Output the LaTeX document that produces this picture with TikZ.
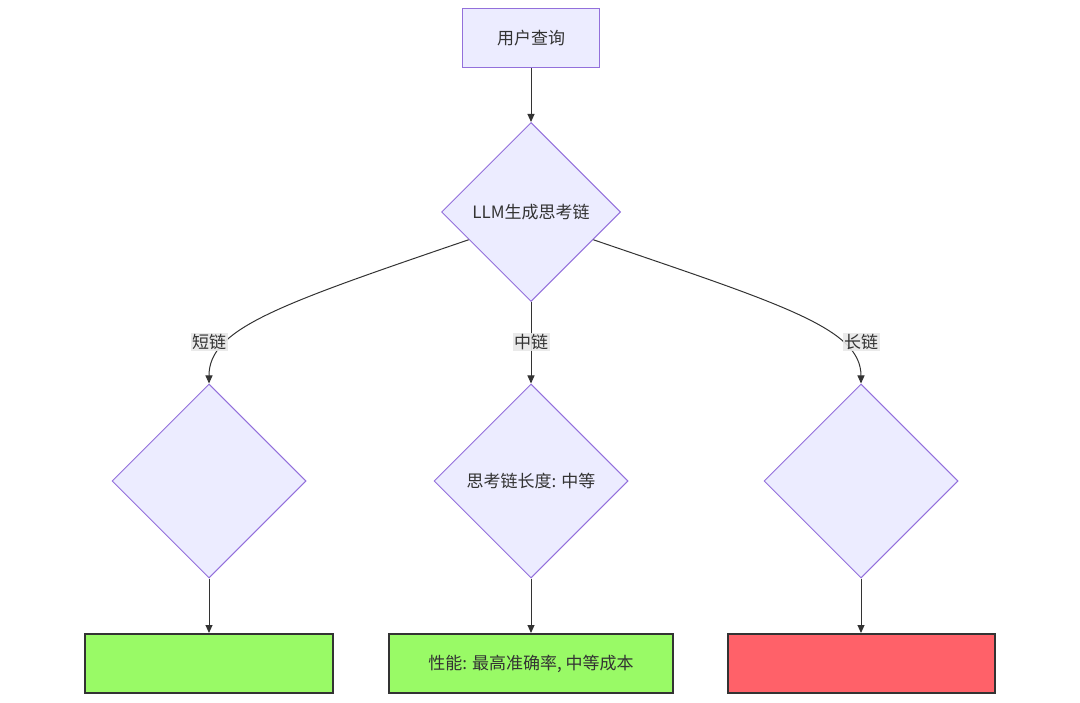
\documentclass[tikz,border=0pt]{standalone}
\usepackage{fontspec}
\setmainfont{Noto Sans CJK SC}
\usetikzlibrary{arrows.meta}
\usetikzlibrary{shapes.geometric}
\definecolor{PaleLilac}{HTML}{ECECFF}
\definecolor{MidPurple}{HTML}{9370DB}
\definecolor{InkGrey}{HTML}{333333}
\definecolor{LabelGrey}{HTML}{E8E8E8}
\definecolor{BrightGreen}{HTML}{99FA66}
\definecolor{WarmRed}{HTML}{FF6169}
\tikzset{
  querybox/.style={draw=MidPurple, fill=PaleLilac, line width=1pt,
    minimum width=137pt, minimum height=59pt, inner sep=0pt},
  choice/.style={diamond, draw=MidPurple, fill=PaleLilac, line width=1pt,
    inner sep=0pt, minimum width=#1, minimum height=#1},
  resultbox/.style={draw=InkGrey, fill=#1, line width=2pt,
    minimum height=59pt, inner sep=0pt},
  flow/.style={draw=InkGrey, line width=1pt, -{Triangle[length=8pt,width=7pt]}},
  edgelabel/.style={fill=LabelGrey, fill opacity=0.9, text opacity=1,
    inner sep=1.5pt}
}

\begin{document}
\begin{tikzpicture}[x=1pt, y=-1pt, every node/.style={text=InkGrey, font=\fontsize{17pt}{20pt}\selectfont}]
  \useasboundingbox (0,0) rectangle (1080,703);

  \node [querybox] (Query) at (531,38.5) {用户查询};
  \node [choice=179pt] (Chain) at (531,212) {LLM生成思考链};

  \node [choice=194pt] (Short) at (209,481) {};
  \node [choice=194pt] (Medium) at (531,481) {思考链长度: 中等};
  \node [choice=194pt] (Long) at (861,481) {};

  \node [resultbox=BrightGreen, minimum width=248pt] (ShortRes) at (209,663.5) {};
  \node [resultbox=BrightGreen, minimum width=284pt] (MediumRes) at (531,663.5) {性能: 最高准确率, 中等成本};
  \node [resultbox=WarmRed, minimum width=267pt] (LongRes) at (861,663.5) {};

  \draw [flow] (Query) -- (Chain);

  % branches, bent into the lower diamonds
  \draw [flow] (Chain.204)
    .. controls +(-190,65) and +(0,-55) .. (Short.north);
  \draw [flow] (Chain.south) -- (Medium.north);
  \draw [flow] (Chain.-24)
    .. controls +(190,65) and +(0,-55) .. (Long.north);

  \node [edgelabel] (ShortTag) at (209,342) {短链};
  \node [edgelabel] (MediumTag) at (531,342) {中链};
  \node [edgelabel] (LongTag) at (861,342) {长链};

  \foreach \d/\r in {Short/ShortRes, Medium/MediumRes, Long/LongRes}{%
    \draw [flow] (\d.south) -- (\r.north);
  }
\end{tikzpicture}
\end{document}
